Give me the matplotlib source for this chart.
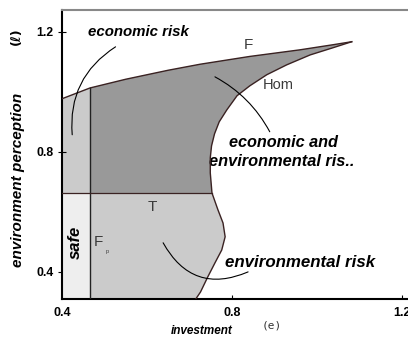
import matplotlib
matplotlib.use("Agg")
import matplotlib.pyplot as plt
from matplotlib.patches import Polygon, Rectangle

# Boundary F (upper edge of the risk region)
upper_x = [0.400, 0.466, 0.550, 0.650, 0.725, 0.842, 0.960, 1.038, 1.082]
upper_y = [0.977, 1.013, 1.042, 1.072, 1.092, 1.118, 1.140, 1.157, 1.167]

# Boundary Hom (from the cusp down to the bottom of the plot)
lower_x = [1.082, 1.038, 0.984, 0.929, 0.882, 0.842, 0.812, 0.788, 0.770, 0.759,
           0.752, 0.749, 0.749, 0.753, 0.767, 0.779, 0.784, 0.776, 0.760, 0.743,
           0.726, 0.715]
lower_y = [1.167, 1.147, 1.123, 1.090, 1.057, 1.020, 0.987, 0.940, 0.900, 0.860,
           0.820, 0.780, 0.730, 0.663, 0.607, 0.563, 0.517, 0.473, 0.430, 0.383,
           0.333, 0.310]

# Threshold lines
fp_x = 0.466   # vertical threshold F_p
t_y = 0.663    # horizontal threshold T
t_end_x = 0.753

x_ticks = [0.4, 0.8, 1.2]
y_ticks = [0.4, 0.8, 1.2]
xlim = (0.4, 1.225)
ylim = (0.31, 1.273)

SANS = ["Liberation Sans", "DejaVu Sans"]
plt.rcParams["font.family"] = SANS

fig = plt.figure(figsize=(4.08, 3.42), dpi=100)
ax = fig.add_axes([0.152, 0.126, 0.859, 0.845])
ax.set_xlim(*xlim)
ax.set_ylim(*ylim)

# Whole risk region
region = list(zip(upper_x, upper_y)) + list(zip(lower_x, lower_y)) + [(0.4, ylim[0])]
poly = Polygon(region, closed=True, facecolor="#cbcbcb", edgecolor="none", zorder=1)
ax.add_patch(poly)

# Combined economic and environmental risk (dark)
dark = Rectangle((fp_x, t_y), 1.0, 1.0, facecolor="#999999", edgecolor="none", zorder=2)
ax.add_patch(dark)
dark.set_clip_path(poly)

# Safe corner
safe = Rectangle((0.4, ylim[0]), fp_x - 0.4, t_y - ylim[0], facecolor="#eeeeee",
                 edgecolor="none", zorder=2)
ax.add_patch(safe)

curve_col = "#3a2222"
ax.plot(upper_x, upper_y, color=curve_col, lw=1.0, zorder=4)
ax.plot(lower_x, lower_y, color=curve_col, lw=1.0, zorder=4)
ax.plot([fp_x, fp_x], [ylim[0], upper_y[1]], color="#222222", lw=1.0, zorder=4)
ax.plot([0.4, t_end_x], [t_y, t_y], color=curve_col, lw=0.9, zorder=4)

# Leader arcs
def arc(p0, p1, rad):
    ax.annotate("", xy=p1, xytext=p0,
                arrowprops=dict(arrowstyle="-", color="black", lw=0.8,
                                connectionstyle=f"arc3,rad={rad}",
                                shrinkA=0, shrinkB=0), zorder=5)

arc((0.526, 1.150), (0.424, 0.857), 0.3)
arc((0.760, 1.050), (0.889, 0.867), -0.15)
arc((0.638, 0.497), (0.838, 0.400), 0.45)

bi = dict(fontweight="bold", fontstyle="italic", color="black")
ax.text(0.581, 1.200, "economic risk", ha="center", va="center", fontsize=10.8, **bi)
ax.text(0.921, 0.830, "economic and", ha="center", va="center", fontsize=11.7, **bi)
ax.text(0.917, 0.767, "environmental ris..", ha="center", va="center", fontsize=11.8, **bi)
ax.text(0.960, 0.430, "environmental risk", ha="center", va="center", fontsize=12.2, **bi)
ax.text(0.431, 0.500, "safe", ha="center", va="center", rotation=90, fontsize=12, **bi)

reg = dict(color="#3a3a3a")
ax.text(0.838, 1.157, "F", ha="center", va="center", fontsize=11, **reg)
ax.text(0.908, 1.023, "Hom", ha="center", va="center", fontsize=10.5, **reg)
ax.text(0.612, 0.617, "T", ha="center", va="center", fontsize=11, **reg)
ax.text(0.485, 0.500, "F", ha="center", va="center", fontsize=11, **reg)
ax.text(0.506, 0.467, "p", ha="center", va="center", fontsize=4, **reg)

# Axes styling
for s in ("left", "bottom"):
    ax.spines[s].set_color("black")
    ax.spines[s].set_linewidth(1.5)
ax.spines["top"].set_color("#888888")
ax.spines["top"].set_linewidth(1.5)
ax.spines["right"].set_visible(False)

ax.set_xticks(x_ticks)
ax.set_yticks(y_ticks)
ax.set_xticklabels([f"{v:.1f}" for v in x_ticks], fontweight="bold", fontsize=9)
ax.set_yticklabels([f"{v:.1f}" for v in y_ticks], fontweight="bold", fontsize=8.8)
ax.tick_params(axis="x", direction="in", length=3, width=0.8, pad=6)
ax.tick_params(axis="y", direction="inout", length=6, width=0.8, pad=3)

fig.text(202 / 408, 1 - 331 / 342, "investment", ha="center", va="center",
         fontsize=8.5, fontweight="bold", fontstyle="italic")
fig.text(272 / 408, 1 - 326 / 342, "(e)", ha="center", va="center",
         fontsize=8, family="DejaVu Sans Mono", color="#333333")
fig.text(18 / 408, 1 - 180 / 342, "environment perception", ha="center", va="center",
         rotation=90, fontsize=11, fontweight="bold", fontstyle="italic")
fig.text(16 / 408, 1 - 36 / 342, "(ℓ)", ha="center", va="center", rotation=90,
         fontsize=9, fontweight="bold", family=["DejaVu Sans"])

fig.savefig("out.png", dpi=100)
